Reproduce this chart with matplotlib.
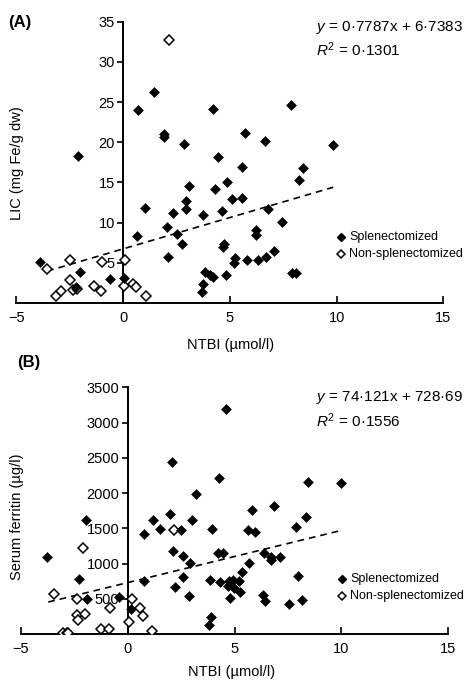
import numpy as np
import matplotlib
matplotlib.use("Agg")
from matplotlib import pyplot as plt

plt.rcParams['font.family'] = ['Liberation Sans', 'DejaVu Sans']
plt.rcParams['font.size'] = 10
plt.rcParams['mathtext.fontset'] = 'custom'
plt.rcParams['mathtext.rm'] = 'Liberation Sans'
plt.rcParams['mathtext.it'] = 'Liberation Sans:italic'

# Panel A: LIC vs NTBI
a_spl_x = [-3.91, -2.13, -2.03, -2.2, -0.63, 0.05, 0.70, 0.63, 1.02, 1.44, 1.92, 1.92, 2.06, 2.11,
           2.34, 2.50, 2.77, 2.84, 2.92, 2.92, 3.09, 3.67, 3.75, 3.75, 3.83, 4.09, 4.22, 4.19,
           4.30, 4.45, 4.61, 4.66, 4.72, 4.84, 4.87, 5.11, 5.20, 5.25, 5.59, 5.59, 5.70, 5.81,
           6.23, 6.23, 6.30, 6.66, 6.67, 6.80, 7.06, 7.45, 7.86, 7.89, 8.09, 8.25, 8.41, 9.84]
a_spl_y = [5.05, 18.3, 3.9, 2.0, 3.0, 3.1, 24.0, 8.3, 11.8, 26.2, 21.0, 20.6, 9.4, 5.7,
           11.2, 8.6, 7.4, 19.8, 12.7, 11.7, 14.5, 1.37, 2.36, 11.0, 3.8, 3.5, 3.2, 24.2,
           14.2, 18.2, 11.5, 7.0, 7.4, 3.5, 15.0, 12.9, 5.0, 5.6, 16.9, 13.1, 21.1, 5.3,
           9.1, 8.45, 5.3, 20.2, 5.7, 11.7, 6.5, 10.1, 24.6, 3.7, 3.7, 15.3, 16.8, 19.6]
a_non_x = [-3.56, -3.13, -2.92, -2.50, -2.47, -2.34, -2.16, -1.36, -1.02, -0.98, 0.08, 0.03,
           0.47, 0.58, 1.05, 2.14]
a_non_y = [4.2, 0.9, 1.45, 5.3, 2.8, 1.66, 1.74, 2.07, 1.45, 5.05, 5.4, 2.07,
           2.4, 2.0, 0.9, 32.7]
a_slope, a_icpt = 0.7787, 6.7383
a_fit_x = [-3.56, 9.84]

# Panel B: serum ferritin vs NTBI
b_spl_x = [-3.79, -2.26, -1.96, -1.88, -0.40, 0.16, 0.78, 0.78, 1.20, 1.51, 1.98, 2.06, 2.13, 2.20,
           2.48, 2.57, 2.57, 2.91, 2.88, 2.99, 3.22, 3.82, 3.88, 3.85, 3.93, 4.28, 4.24, 4.31,
           4.44, 4.60, 4.75, 4.70, 4.78, 4.94, 4.98, 5.22, 5.28, 5.36, 5.69, 5.64, 5.84, 5.95,
           6.34, 6.39, 6.42, 6.73, 6.73, 6.85, 7.15, 7.55, 7.87, 7.98, 8.16, 8.36, 8.44, 9.97]
b_spl_y = [1088, 780, 1618, 492, 530, 350, 757, 1414, 1618, 1490, 1698, 2436, 1183, 672,
           1476, 1112, 814, 1003, 539, 1618, 1982, 128, 246, 766, 1490, 2209, 1154, 743,
           1154, 3193, 757, 681, 506, 766, 648, 757, 591, 885, 1003, 1476, 1760, 1452,
           553, 1154, 473, 1050, 1097, 1816, 1097, 421, 1514, 823, 482, 1656, 2162, 2138]
b_non_x = [-3.44, -3.00, -2.85, -2.77, -2.38, -2.35, -2.31, -2.07, -1.99, -1.25, -0.87, -0.83,
           0.08, 0.19, 0.58, 0.70, 1.15, 2.17]
b_non_y = [563, 19, 19, 9, 492, 270, 199, 1225, 284, 71, 71, 374,
           175, 492, 374, 255, 43, 1476]
b_slope, b_icpt = 74.121, 728.69
b_fit_x = [-3.71, 9.95]

W, H = 477, 680
fig = plt.figure(figsize=(W / 100, H / 100), dpi=100)


def px(x, y):
    return x / W, 1 - y / H


def panel(rect, sx, sy, nx, ny, fit_x, slope, icpt, ymax, ystep, ylabel, eq, r2,
          tag, tag_xy, ylab_xy, xlab_xy, eq_xy, leg_xy):
    ax = fig.add_axes(rect)
    fx = np.array(fit_x)
    ax.plot(fx, slope * fx + icpt, ls=(0, (4, 3)), color='black', lw=1.2, zorder=2)
    ax.plot(nx, ny, 'D', ms=5.0, mfc='white', mec='black', mew=1.1, ls='none', zorder=3)
    ax.plot(sx, sy, 'D', ms=4.7, mfc='black', mec='black', mew=0.4, ls='none', zorder=4)
    ax.set_xlim(-5, 15)
    ax.set_ylim(0, ymax)
    ax.set_xticks([-5, 0, 5, 10, 15])
    ax.set_yticks(np.arange(ystep, ymax + 1, ystep))
    for s in ['top', 'right']:
        ax.spines[s].set_visible(False)
    ax.spines['left'].set_position(('data', 0))
    ax.spines['left'].set_linewidth(1.4)
    ax.spines['bottom'].set_linewidth(1.4)
    ax.tick_params(axis='x', direction='in', length=5, width=1.2, pad=6, labelsize=10.5)
    ax.tick_params(axis='y', direction='out', length=4, width=1.2, pad=2, labelsize=10.5)
    ax.patch.set_alpha(0)

    fig.text(*px(*tag_xy), tag, fontsize=12, fontweight='bold', ha='center', va='center')
    fig.text(*px(*ylab_xy), ylabel, rotation=90, ha='center', va='center', fontsize=10.5)
    fig.text(*px(*xlab_xy), 'NTBI (µmol/l)', ha='center', va='center', fontsize=10.5)
    fig.text(*px(*eq_xy), eq, ha='left', va='center', fontsize=11)
    fig.text(*px(eq_xy[0], eq_xy[1] + 23), r2, ha='left', va='center', fontsize=11)

    # hand-drawn legend, as in the original figure
    lx, ly = leg_xy
    fig.lines.append(plt.Line2D([lx / W], [1 - ly / H], marker='D', ms=3.9, mfc='black',
                                mec='black', ls='none', transform=fig.transFigure))
    fig.lines.append(plt.Line2D([lx / W], [1 - (ly + 17) / H], marker='D', ms=4.5,
                                mfc='white', mec='black', mew=1.1, ls='none',
                                transform=fig.transFigure))
    fig.text(*px(lx + 8, ly), 'Splenectomized', ha='left', va='center', fontsize=9)
    fig.text(*px(lx + 8, ly + 17), 'Non-splenectomized', ha='left', va='center', fontsize=9)
    return ax


panel([16.5 / W, 1 - 303 / H, 426.8 / W, 281.3 / H],
      a_spl_x, a_spl_y, a_non_x, a_non_y, a_fit_x, a_slope, a_icpt, 35, 5,
      'LIC (mg Fe/g dw)', r'$\it{y}$ = 0·7787x + 6·7383', r'$\it{R}^2$ = 0·1301',
      '(A)', (20, 23), (17, 163), (231, 345), (316, 27), (341, 237))

panel([20.7 / W, 1 - 634 / H, 427.6 / W, 246.7 / H],
      b_spl_x, b_spl_y, b_non_x, b_non_y, b_fit_x, b_slope, b_icpt, 3500, 500,
      'Serum ferritin (µg/l)', r'$\it{y}$ = 74·121x + 728·69', r'$\it{R}^2$ = 0·1556',
      '(B)', (29, 363), (17, 517), (232, 672), (316, 398), (342, 579))

fig.savefig('out.png', dpi=100)
